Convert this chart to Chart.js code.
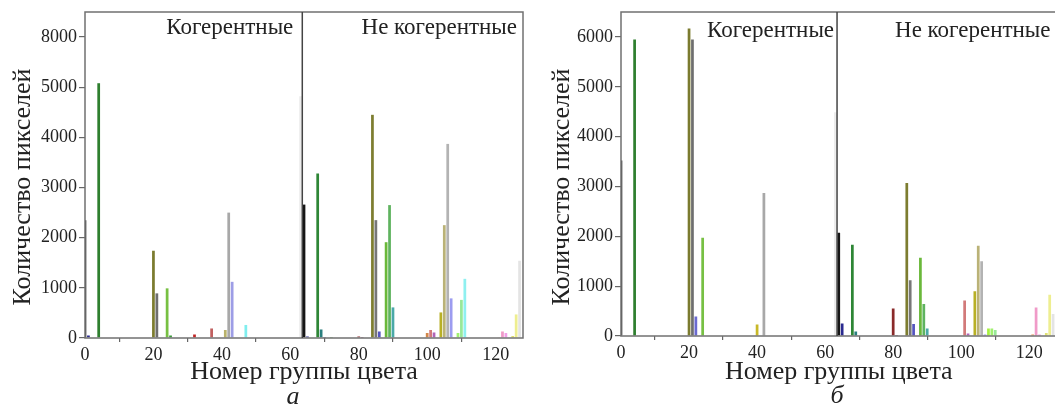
<!DOCTYPE html>
<html lang="ru">
<head>
<meta charset="utf-8">
<title>Количество пикселей по группам цвета</title>
<script src="https://cdn.jsdelivr.net/npm/chart.js@4.4.1/dist/chart.umd.min.js"></script>
<style>
  html, body { margin:0; padding:0; background:#fff; }
  body { width:1055px; height:412px; position:relative; overflow:hidden;
         font-family:"Liberation Serif", "Times New Roman", serif; color:#222; }
  canvas { position:absolute; top:0; }
  #chart-a { left:0; }
  #chart-b { left:536px; }
  .ytitle { position:absolute; width:300px; height:26px; line-height:26px; font-size:26px;
            text-align:center; white-space:nowrap; transform:rotate(-90deg); }
  .panel-tag { position:absolute; width:40px; font-size:26px; line-height:26px;
               font-style:italic; text-align:center; }
</style>
</head>
<body>
<canvas id="chart-a" width="530" height="400"></canvas>
<canvas id="chart-b" width="524" height="400"></canvas>
<div class="ytitle" style="left:-128px; top:173.5px">Количество пикселей</div>
<div class="ytitle" style="left:411px; top:173.5px">Количество пикселей</div>
<div class="panel-tag" style="left:273px; top:383px">а</div>
<div class="panel-tag" style="left:817px; top:382px">б</div>

<script>
/* ── DATA ──────────────────────────────── */
const X_TICKS    = [0, 20, 40, 60, 80, 100, 120];
const Y_TICKS    = [0, 1000, 2000, 3000, 4000, 5000, 6000];
const Y_LABELS_A = ['0', '1000', '2000', '3000', '4000', '5000', '8000'];
const Y_LABELS_B = ['0', '1000', '2000', '3000', '4000', '5000', '6000'];
const REGIONS    = ['Когерентные', 'Не когерентные'];
const X_TITLE    = 'Номер группы цвета';
const SPLIT      = 63.5;   // граница между когерентными и некогерентными группами

// панель а
const GROUPS_A = [0, 1, 4, 20, 21, 24, 25, 32, 37, 41, 42, 43, 47, 63, 64, 65, 68, 69, 70, 72,
                  80, 81, 84, 85, 86, 88, 89, 90, 100, 101, 102, 104, 105, 106, 107, 109, 110, 111,
                  121, 122, 123, 125, 126, 127];
const COUNTS_A = [2350, 50, 5080, 1740, 890, 990, 50, 70, 190, 160, 2500, 1120, 260, 4820, 2660, 30, 3280, 170, 20, 20,
                  30, 20, 4450, 2350, 130, 1910, 2650, 610, 100, 160, 110, 510, 2250, 3870, 790, 100, 760, 1180,
                  10, 130, 100, 40, 470, 1540];

// панель б
const GROUPS_B = [0, 4, 20, 21, 22, 24, 40, 42, 63, 64, 65, 68, 69, 80, 81, 84, 85, 86, 88, 89, 90,
                  100, 101, 102, 104, 105, 106, 107, 108, 109, 110, 121, 122, 123, 125, 126, 127];
const COUNTS_B = [3520, 5950, 6170, 5950, 390, 1970, 230, 2870, 4490, 2070, 250, 1830, 90, 550, 20, 3070, 1120, 240, 1570, 640, 150,
                  10, 710, 50, 900, 1810, 1500, 30, 150, 150, 120, 30, 570, 30, 60, 830, 440];

// цвет каждой группы (одинаков на обеих панелях)
const GROUP_COLORS = {
  0:'#4a4a4a', 1:'#2b2b8f', 4:'#2f7f2f', 20:'#7b7b2e', 21:'#6e6e6e', 22:'#6a6ad0', 24:'#77c043', 25:'#3a9a3a',
  32:'#c02525', 37:'#c06060', 40:'#c8b828', 41:'#b9b26a', 42:'#a8a8a8', 43:'#9d9de6', 47:'#80eeee',
  63:'#ececec', 64:'#151515', 65:'#2a2a90', 68:'#2e8636', 69:'#2a7f7f', 70:'#4444aa', 72:'#4caf50',
  80:'#8a2a2a', 81:'#8a3a6a', 84:'#7d7d30', 85:'#777777', 86:'#5555c0', 88:'#6ab83a', 89:'#5fb35f', 90:'#4aa8a8',
  100:'#d2874a', 101:'#d27a7a', 102:'#b064b8', 104:'#b8b025', 105:'#bab277', 106:'#b3b3b3', 107:'#9c9cf0',
  108:'#a8f040', 109:'#a0f070', 110:'#98e898', 111:'#8ff0f0',
  121:'#f09050', 122:'#f09ac8', 123:'#f0a0e8', 125:'#e0e070', 126:'#eeee90', 127:'#e4e4e4'
};

const SERIF = '"Liberation Serif", "Times New Roman", serif';
const INK   = '#222';

/* ── FRAME + REGION LABELS ─────────────── */
const framePlugin = {
  id: 'frame',
  afterDatasetsDraw(chart, args, opts) {
    const { ctx, chartArea: a, scales: { x } } = chart;
    const xs = x.getPixelForValue(SPLIT);
    ctx.save();
    ctx.strokeStyle = '#707070';
    ctx.lineWidth = 1.5;
    ctx.strokeRect(a.left, a.top, a.right - a.left, a.bottom - a.top);
    ctx.strokeStyle = '#444';
    ctx.beginPath();
    ctx.moveTo(xs, a.top);
    ctx.lineTo(xs, a.bottom);
    ctx.stroke();
    ctx.font = '23px ' + SERIF;
    ctx.fillStyle = INK;
    ctx.textAlign = 'right';
    ctx.textBaseline = 'alphabetic';
    ctx.fillText(REGIONS[0], xs - opts.gap, opts.labelY);
    ctx.fillText(REGIONS[1], a.right - 6, opts.labelY);
    ctx.restore();
  }
};

/* ── PANELS ────────────────────────────── */
function buildPanel(canvasId, groups, counts, yLabels, lay) {
  const el = document.getElementById(canvasId);
  return new Chart(el, {
    type: 'bar',
    data: {
      datasets: [{
        data: groups.map((g, i) => ({ x: g, y: counts[i] })),
        backgroundColor: groups.map(g => GROUP_COLORS[g]),
        borderWidth: 0,
        barPercentage: 0.8,
        categoryPercentage: 1,
      }]
    },
    options: {
      responsive: false,
      animation: false,
      devicePixelRatio: 1,
      layout: { padding: { top: lay.top, right: lay.right, left: 0, bottom: 0 } },
      plugins: {
        legend: { display: false },
        tooltip: { enabled: false },
        frame: { gap: lay.gap, labelY: lay.labelY }
      },
      scales: {
        x: {
          type: 'linear', min: 0, max: 128, offset: false,
          afterBuildTicks: s => { s.ticks = X_TICKS.map(v => ({ value: v })); },
          afterFit: s => { s.height = lay.xh; s.paddingLeft = 0; s.paddingRight = 0; },
          grid: { drawOnChartArea: false, drawTicks: true, tickLength: 4, color: '#666', lineWidth: 1.2 },
          border: { display: false },
          ticks: { color: INK, font: { family: SERIF, size: 18 }, padding: 2, maxRotation: 0, autoSkip: false },
          title: { display: true, text: X_TITLE, color: INK, font: { family: SERIF, size: 26 },
                   padding: { top: 0, bottom: lay.titlePad } }
        },
        y: {
          min: 0, max: 6500,
          afterBuildTicks: s => { s.ticks = Y_TICKS.map(v => ({ value: v })); },
          afterFit: s => { s.width = 85; s.paddingTop = 0; s.paddingBottom = 0; },
          grid: { drawOnChartArea: false, drawTicks: true, tickLength: 6, color: '#666', lineWidth: 1.2 },
          border: { display: false },
          ticks: { color: INK, font: { family: SERIF, size: 18 }, padding: 2,
                   callback: (v, i) => yLabels[i] }
        }
      }
    },
    plugins: [framePlugin]
  });
}

buildPanel('chart-a', GROUPS_A, COUNTS_A, Y_LABELS_A,
           { top: 12, right: 7, xh: 62, titlePad: 12, gap: 9, labelY: 33.5 });
buildPanel('chart-b', GROUPS_B, COUNTS_B, Y_LABELS_B,
           { top: 12, right: 3.5, xh: 64, titlePad: 12, gap: 3, labelY: 36.5 });
</script>
</body>
</html>
